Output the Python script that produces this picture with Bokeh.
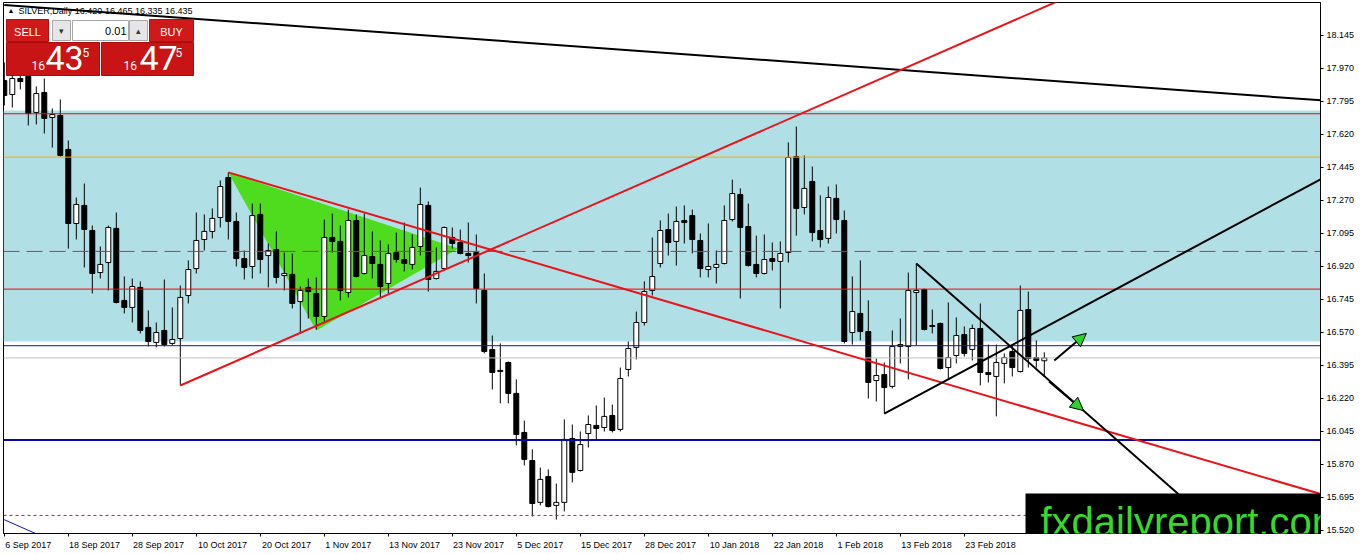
from bokeh.plotting import figure
from bokeh.models import (Range1d, FixedTicker, BoxAnnotation, Label,
                          Arrow, NormalHead, ColumnDataSource, PrintfTickFormatter)
from bokeh.embed import file_html
from bokeh.resources import INLINE

# ---------------- data (SILVER, Daily) ----------------
opens = [17.906, 17.832, 17.917, 17.928, 17.737, 17.843, 17.710, 17.721, 17.541, 17.148,
         17.244, 17.111, 16.888, 16.941, 17.122, 16.740, 16.703, 16.809, 16.597, 16.517,
         16.581, 16.512, 16.538, 16.766, 16.909, 17.063, 17.106, 17.180, 17.392, 17.159,
         16.962, 16.920, 17.196, 16.978, 17.010, 16.872, 16.878, 16.734, 16.809, 16.777,
         16.655, 17.074, 17.053, 16.782, 17.164, 16.883, 16.973, 16.931, 16.830, 16.994,
         16.957, 16.931, 17.026, 17.244, 16.856, 16.909, 17.074, 17.047, 16.989, 16.994,
         16.793, 16.480, 16.369, 16.411, 16.247, 16.040, 15.891, 15.669, 15.806, 15.653,
         15.669, 16.008, 15.838, 16.034, 16.077, 16.066, 16.130, 16.056, 16.374, 16.491,
         16.623, 16.793, 16.936, 17.116, 17.053, 17.164, 17.190, 17.058, 16.904, 16.915,
         16.936, 17.169, 17.302, 17.132, 16.931, 16.883, 16.962, 16.947, 16.994, 17.503,
         17.233, 17.371, 17.111, 17.069, 17.281, 17.164, 16.570, 16.671, 16.575, 16.315,
         16.347, 16.284, 16.496, 16.496, 16.782, 16.798, 16.607, 16.618, 16.384, 16.448,
         16.559, 16.480, 16.591, 16.358, 16.337, 16.406, 16.469, 16.363, 16.692, 16.437,
         16.420]
highs = [18.002, 17.959, 17.949, 17.959, 17.875, 17.917, 17.758, 17.806, 17.588, 17.286,
         17.360, 17.137, 17.026, 17.137, 17.206, 16.867, 16.856, 16.841, 16.687, 16.623,
         16.851, 16.703, 16.819, 16.952, 17.206, 17.196, 17.228, 17.376, 17.419, 17.206,
         17.005, 17.254, 17.254, 17.042, 17.106, 16.994, 16.989, 16.814, 16.856, 16.862,
         17.169, 17.201, 17.137, 17.222, 17.196, 17.201, 17.106, 17.058, 17.037, 17.100,
         17.153, 17.090, 17.339, 17.265, 17.021, 17.132, 17.127, 17.116, 17.153, 17.090,
         16.883, 16.554, 16.512, 16.416, 16.321, 16.103, 15.950, 15.854, 15.844, 15.769,
         16.109, 16.082, 16.045, 16.130, 16.183, 16.225, 16.188, 16.384, 16.522, 16.681,
         16.841, 17.074, 17.164, 17.201, 17.238, 17.244, 17.222, 17.095, 17.148, 17.005,
         17.244, 17.381, 17.334, 17.254, 17.084, 17.090, 17.047, 17.053, 17.578, 17.662,
         17.509, 17.450, 17.297, 17.344, 17.355, 17.217, 16.867, 16.952, 16.740, 16.432,
         16.411, 16.581, 16.644, 16.888, 16.936, 16.803, 16.692, 16.623, 16.729, 16.650,
         16.602, 16.612, 16.724, 16.506, 16.506, 16.459, 16.501, 16.819, 16.787, 16.528,
         16.465]
lows = [17.774, 17.763, 17.859, 17.668, 17.673, 17.625, 17.551, 17.503, 17.015, 17.063,
        16.915, 16.777, 16.856, 16.793, 16.724, 16.671, 16.623, 16.565, 16.496, 16.491,
        16.496, 16.501, 16.289, 16.724, 16.883, 17.005, 17.069, 17.127, 17.063, 16.920,
        16.851, 16.856, 16.883, 16.809, 16.830, 16.793, 16.697, 16.565, 16.644, 16.586,
        16.623, 16.994, 16.740, 16.756, 16.862, 16.878, 16.856, 16.756, 16.777, 16.941,
        16.894, 16.904, 16.978, 16.787, 16.851, 16.899, 17.015, 16.984, 16.941, 16.724,
        16.459, 16.268, 16.194, 16.194, 15.971, 15.865, 15.594, 15.653, 15.642, 15.578,
        15.621, 15.775, 15.833, 15.960, 16.003, 16.045, 16.040, 16.045, 16.337, 16.427,
        16.607, 16.766, 16.915, 16.978, 16.925, 17.042, 16.989, 16.862, 16.862, 16.830,
        16.931, 17.159, 16.750, 16.920, 16.862, 16.878, 16.899, 16.697, 16.941, 17.084,
        17.196, 17.053, 17.021, 17.042, 17.095, 16.512, 16.506, 16.528, 16.220, 16.204,
        16.140, 16.273, 16.406, 16.321, 16.501, 16.581, 16.565, 16.374, 16.326, 16.406,
        16.443, 16.422, 16.289, 16.305, 16.125, 16.300, 16.337, 16.358, 16.384, 16.384,
        16.335]
closes = [17.827, 17.917, 17.901, 17.731, 17.837, 17.705, 17.726, 17.509, 17.148, 17.249,
          17.116, 16.883, 16.931, 17.127, 16.729, 16.703, 16.814, 16.581, 16.522, 16.570,
          16.506, 16.533, 16.756, 16.904, 17.058, 17.106, 17.175, 17.344, 17.159, 16.962,
          16.915, 17.190, 16.957, 17.005, 16.862, 16.883, 16.724, 16.793, 16.787, 16.655,
          17.074, 17.053, 16.793, 17.164, 16.867, 16.978, 16.936, 16.814, 16.989, 16.957,
          16.936, 17.021, 17.249, 16.851, 16.894, 17.127, 17.042, 16.989, 16.978, 16.803,
          16.469, 16.358, 16.363, 16.247, 16.029, 15.897, 15.663, 15.791, 15.647, 15.669,
          16.003, 15.828, 15.976, 16.082, 16.061, 16.125, 16.050, 16.326, 16.485, 16.623,
          16.787, 16.867, 17.111, 17.047, 17.159, 17.153, 17.063, 16.909, 16.920, 16.931,
          17.164, 17.307, 17.127, 16.925, 16.883, 16.957, 16.947, 16.989, 17.498, 17.228,
          17.334, 17.100, 17.063, 17.286, 17.169, 16.522, 16.681, 16.575, 16.305, 16.342,
          16.278, 16.496, 16.506, 16.793, 16.793, 16.586, 16.602, 16.379, 16.437, 16.554,
          16.459, 16.591, 16.358, 16.347, 16.411, 16.437, 16.384, 16.687, 16.432, 16.422,
          16.435]

date_tick_bars = [0, 8, 16, 24, 32, 40, 48, 56, 64, 72, 80, 88, 96, 104, 112, 120]
date_tick_labels = ["6 Sep 2017", "18 Sep 2017", "28 Sep 2017", "10 Oct 2017", "20 Oct 2017",
                    "1 Nov 2017", "13 Nov 2017", "23 Nov 2017", "5 Dec 2017", "15 Dec 2017",
                    "28 Dec 2017", "10 Jan 2018", "22 Jan 2018", "1 Feb 2018", "13 Feb 2018",
                    "23 Feb 2018"]
price_ticks = [18.145, 17.970, 17.795, 17.620, 17.445, 17.270, 17.095, 16.920, 16.745,
               16.570, 16.395, 16.220, 16.045, 15.870, 15.695, 15.520]

# horizontal levels: price, colour, width, dash
level_prices = [17.730, 17.500, 17.000, 16.800, 16.500, 16.435, 16.000, 15.600]
level_colors = ["#ff0000", "#ffa500", "#ff1a1a", "#ff0000", "#1010d0", "#c0c0c0", "#0808a8", "#e01010"]
level_widths = [1, 1, 1, 1, 1, 1, 2, 1]
level_dashes = ["solid", "solid", "16 7", "solid", "solid", "solid", "solid", "3 3"]
# price tags on the axis (price, background)
tag_prices = [17.730, 17.500, 16.800, 16.500, 16.435, 16.000]
tag_colors = ["#ff0000", "#ffa500", "#ff0000", "#0000ff", "#000000", "#0000ff"]

band_low, band_high = 16.522, 17.747

# trendline anchors (bar index, price)
top_line_bars, top_line_prices = [0, 164], [18.307, 17.803]
red_up_bars, red_up_prices = [22, 98], [16.289, 17.701]
red_down_bars, red_down_prices = [28, 164], [17.419, 15.720]
blk_up_bars, blk_up_prices = [110, 160], [16.140, 17.279]
blk_down_bars, blk_down_prices = [114, 150], [16.936, 15.592]
blue_small_bars, blue_small_prices = [0, 3.8], [15.577, 15.506]
tri_bars, tri_prices = [28, 39, 56.75], [17.419, 16.581, 17.015]
arrow_up = (131.25, 16.422, 135.25, 16.565)
arrow_dn = (130.6, 16.310, 134.9, 16.156)

# ---------------- figure ----------------
X0, X1 = -0.1, 164.525
Y0, Y1 = 15.504, 18.320
FONT = "Liberation Sans"

p = figure(frame_width=1317, frame_height=531,
           x_range=Range1d(X0, X1), y_range=Range1d(Y0, Y1),
           output_backend="svg", toolbar_location=None, y_axis_location="right",
           min_border_left=3, min_border_top=2, min_border_right=42, min_border_bottom=21)
p.background_fill_color = "white"
p.border_fill_color = "white"
p.outline_line_color = "black"
p.outline_line_width = 1
p.grid.visible = False


def rx(px):
    return X0 + (px - 3.0) * (X1 - X0) / 1317.0


def ry(py):
    return Y1 - (py - 2.0) * (Y1 - Y0) / 531.0


def ray(xs, ys, x_end):
    slope = (ys[1] - ys[0]) / (xs[1] - xs[0])
    return [xs[0], x_end], [ys[0], ys[0] + slope * (x_end - xs[0])]


# bottom axis: labels sit just right of each date tick (minor ticks mark the dates)
label_pos = [round(b + (1 + 2.3 * len(t)) / 8.0, 3) for b, t in zip(date_tick_bars, date_tick_labels)]
xa = p.xaxis[0]
xa.ticker = FixedTicker(ticks=label_pos, minor_ticks=date_tick_bars)
xa.major_label_overrides = {pos: t for pos, t in zip(label_pos, date_tick_labels)}
xa.major_tick_out = 0
xa.major_tick_in = 0
xa.minor_tick_out = 3
xa.minor_tick_in = 0
xa.minor_tick_line_color = "black"
xa.axis_line_color = "black"
xa.major_label_standoff = 3
xa.major_label_text_font = FONT
xa.major_label_text_font_size = "9px"
xa.major_label_text_color = "black"

ya = p.yaxis[0]
ya.ticker = FixedTicker(ticks=price_ticks)
ya.formatter = PrintfTickFormatter(format="%.3f")
ya.major_tick_out = 3
ya.major_tick_in = 0
ya.minor_tick_out = 0
ya.minor_tick_in = 0
ya.axis_line_color = "black"
ya.major_label_standoff = 3
ya.major_label_text_font = FONT
ya.major_label_text_font_size = "9px"
ya.major_label_text_color = "black"

# background band
p.add_layout(BoxAnnotation(bottom=band_low, top=band_high, fill_color="#b0e0e6",
                           fill_alpha=1.0, line_color=None, level="underlay"))

# green triangle
p.patch(tri_bars, tri_prices, fill_color="#4fdb1e", line_color=None)

# candles
bars = list(range(len(opens)))
src = ColumnDataSource(dict(
    x=bars, h=highs, l=lows,
    top=[max(o, c) for o, c in zip(opens, closes)],
    bottom=[min(o, c) for o, c in zip(opens, closes)],
    fill=["white" if c >= o else "black" for o, c in zip(opens, closes)],
))
p.segment(x0="x", y0="h", x1="x", y1="l", source=src, line_color="black", line_width=1)
p.vbar(x="x", width=0.62, top="top", bottom="bottom", source=src,
       fill_color="fill", line_color="black", line_width=1)

# horizontal levels
for lv, col, w, d in zip(level_prices, level_colors, level_widths, level_dashes):
    p.segment(x0=X0, x1=X1, y0=lv, y1=lv, line_color=col, line_width=w, line_dash=d)

# trend lines
p.line(*ray(top_line_bars, top_line_prices, X1 + 1), line_color="black", line_width=2)
p.line(*ray(red_up_bars, red_up_prices, X1 + 1), line_color="#e8141a", line_width=2)
p.line(*ray(red_down_bars, red_down_prices, X1 + 1), line_color="#e8141a", line_width=2)
p.line(*ray(blk_up_bars, blk_up_prices, X1 + 1), line_color="black", line_width=2)
p.line(*ray(blk_down_bars, blk_down_prices, X1 + 1), line_color="black", line_width=2)
p.line(*ray(blue_small_bars, blue_small_prices, 12), line_color="#1010c0", line_width=1)

# arrows
for (xs, ys, xe, ye) in (arrow_up, arrow_dn):
    p.add_layout(Arrow(end=NormalHead(size=13, fill_color="#2fd12f", line_color="black", line_width=1),
                       x_start=xs, y_start=ys, x_end=xe, y_end=ye,
                       line_color="black", line_width=2))

# ---------------- trade panel (screen decoration) ----------------
RED = "#d01a1a"
panel_l = [6, 52, 72, 129, 149, 6, 101]
panel_r = [48, 70, 128, 147, 193, 99, 193]
panel_t = [19, 20, 20, 20, 19, 42, 42]
panel_b = [41, 40, 40, 40, 41, 75, 75]
panel_c = [RED, "#e6e6e6", "white", "#e6e6e6", RED, "#c81414", "#c81414"]
panel_lc = ["#b01010", "#a8a8a8", "#a8a8a8", "#a8a8a8", "#b01010", "#a80c0c", "#a80c0c"]
p.quad(left=[rx(v) for v in panel_l], right=[rx(v) for v in panel_r],
       top=[ry(v) for v in panel_t], bottom=[ry(v) for v in panel_b],
       fill_color=panel_c, line_color=panel_lc, line_width=1)


def lab(text, px, py, size, color="black", align="left", font=FONT):
    # py is the vertical centre of the text
    p.add_layout(Label(x=rx(px), y=ry(py), text=text, text_font=font, text_font_size=size,
                       text_color=color, text_align=align, text_baseline="middle"))


lab("\u25b2", 7, 10, "7px")
lab("SILVER,Daily  16.420 16.465 16.335 16.435", 18, 10, "9px")
lab("SELL", 27, 31, "11px", "white", "center")
lab("\u25be", 61, 30, "9px", "#333333", "center")
lab("0.01", 126, 30, "11px", "black", "right")
lab("\u25b4", 138, 30, "9px", "#333333", "center")
lab("BUY", 171, 31, "11px", "white", "center")
lab("16", 31, 65, "12px", "white", "left", "Roboto")
lab("43", 45, 57.5, "34px", "white", "left", "Roboto")
lab("5", 82, 52, "12px", "white", "left", "Roboto")
lab("16", 123, 65, "12px", "white", "left", "Roboto")
lab("47", 139, 57.5, "34px", "white", "left", "Roboto")
lab("5", 175, 52, "12px", "white", "left", "Roboto")

# price tags on the right axis
for tp, tc in zip(tag_prices, tag_colors):
    p.add_layout(Label(x=X1, y=tp, x_offset=1, text="%.3f" % tp, text_font=FONT,
                       text_font_size="9px", text_color="white", text_align="left",
                       text_baseline="middle", background_fill_color=tc,
                       padding=dict(left=3, right=7, top=1, bottom=1)))

# watermark: black box + green text
p.add_layout(BoxAnnotation(left=rx(1025), right=rx(1366), top=ry(493), bottom=ry(558),
                           fill_color="black", fill_alpha=1.0, line_color=None,
                           level="annotation"))
lab("fxdailyreport.com", 1040, 521, "40px", "#37d92a", "left")

open("out.html", "w").write(file_html(p, INLINE))
